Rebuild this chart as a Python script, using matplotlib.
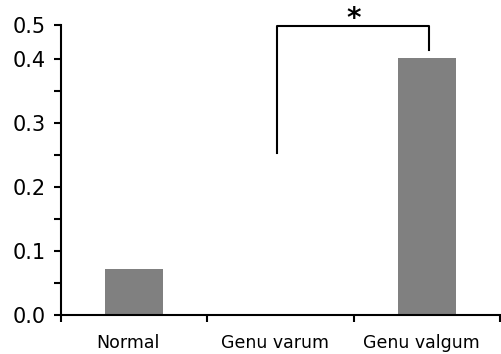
import numpy as np
import matplotlib.pyplot as plt

categories = ['Normal', 'Genu varum', 'Genu valgum']
values = [0.072, 0.0, 0.401]

ytick_vals = [0.0, 0.1, 0.2, 0.3, 0.4, 0.453]
ytick_labels = ['0.0', '0.1', '0.2', '0.3', '0.4', '0.5']
minor_vals = [0.05, 0.15, 0.25, 0.35]

# significance bracket (x in category units, y in data units)
bracket_x = [0.977, 0.977, 2.016, 2.016]
bracket_y = [0.253, 0.452, 0.452, 0.414]
star_x, star_y = 1.5, 0.462

plt.rcParams['font.family'] = ['DejaVu Sans']

fig = plt.figure(figsize=(5.01, 3.54), dpi=100)
ax = fig.add_axes([61 / 501, 39 / 354, 439 / 501, 290 / 354])

x = np.arange(len(categories))
ax.bar(x, values, width=0.4, color='#808080')

ax.set_xlim(-0.5, 2.5)
ax.set_ylim(0, 0.453)

ax.set_xticks([-0.5, 0.5, 1.5, 2.5])
ax.set_xticklabels([])
ax.set_xticks(x - 0.04, minor=True)
ax.set_xticklabels(categories, minor=True, fontsize=12.5)
ax.tick_params(axis='x', which='minor', length=0, pad=14)
ax.tick_params(axis='x', which='major', direction='out', length=5, width=1.5)

ax.set_yticks(ytick_vals)
ax.set_yticklabels(ytick_labels, fontsize=15)
ax.set_yticks(minor_vals, minor=True)
ax.tick_params(axis='y', which='both', direction='out', length=5, width=1.5, pad=6)

for side in ['top', 'right']:
    ax.spines[side].set_visible(False)
for side in ['left', 'bottom']:
    ax.spines[side].set_linewidth(1.5)

ax.plot(bracket_x, bracket_y, color='black', linewidth=1.5, clip_on=False)
ax.text(star_x, star_y, '*', ha='center', va='center', fontsize=20, fontweight='bold')

fig.savefig('out.png', dpi=100)
